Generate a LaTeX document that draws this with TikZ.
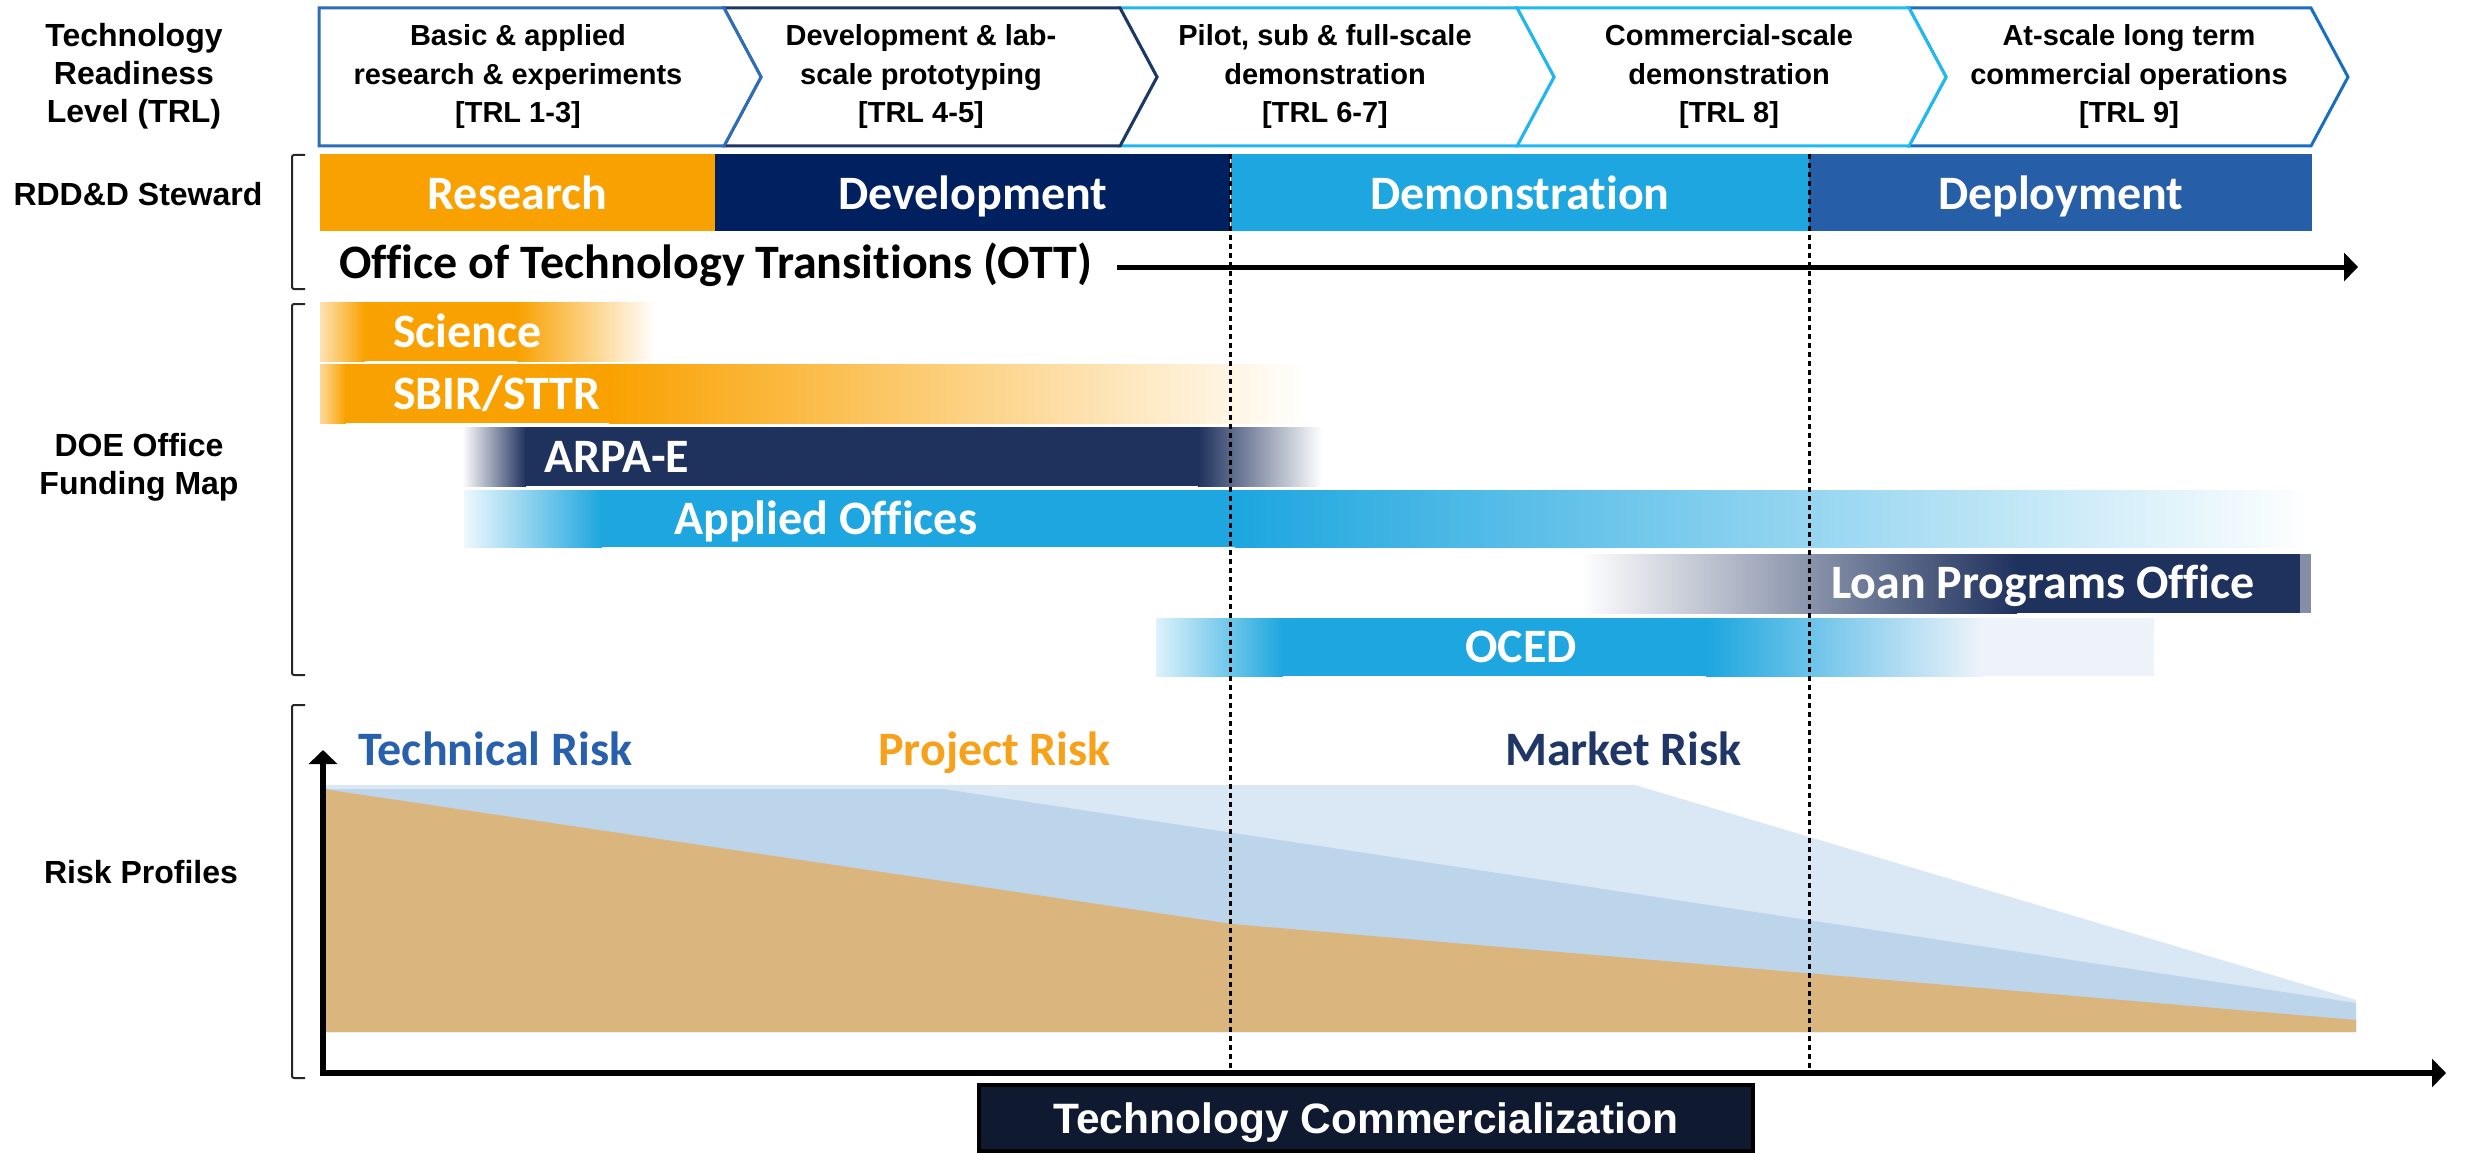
\documentclass[tikz,border=0pt]{standalone}
\usepackage{fontspec}
\setmainfont{Liberation Sans}
\newfontfamily\carlito[Ligatures=NoCommon]{Carlito}
\usepackage{xcolor}
\usepackage{tikz}
\usetikzlibrary{positioning, arrows.meta}

\definecolor{resorange}{RGB}{249,161,0}
\definecolor{devnavy}{RGB}{0,32,96}
\definecolor{demoblue}{RGB}{29,166,223}
\definecolor{depblue}{RGB}{38,94,168}
\definecolor{fundnavy}{RGB}{31,50,94}
\definecolor{techblue}{RGB}{40,96,174}
\definecolor{projorange}{RGB}{247,161,26}
\definecolor{marketnavy}{RGB}{31,54,103}
\definecolor{risklight}{RGB}{218,232,245}
\definecolor{riskmid}{RGB}{189,213,234}
\definecolor{risktan}{RGB}{219,181,126}
\definecolor{commnavy}{RGB}{15,26,48}
\definecolor{ocedpale}{RGB}{238,243,250}
\definecolor{chevA}{RGB}{46,110,184}
\definecolor{chevB}{RGB}{31,55,99}
\definecolor{chevC}{RGB}{34,182,240}
\definecolor{chevD}{RGB}{30,186,242}
\definecolor{chevE}{RGB}{24,110,193}

\tikzstyle{rowlabel} = [align=center, inner sep=0pt, font=\fontsize{32}{38}\selectfont\bfseries]
\tikzstyle{chevtext} = [align=center, inner sep=0pt, font=\fontsize{29}{38.5}\selectfont\bfseries]
\tikzstyle{chevron} = [line width=3pt, fill=white, line join=miter]
\tikzstyle{steward} = [minimum height=77pt, inner sep=0pt, text height=33pt, text depth=0pt, text=white, font=\carlito\fontsize{48}{52}\selectfont\bfseries]
\tikzstyle{fundtext} = [anchor=base west, inner sep=0pt, text=white, font=\carlito\fontsize{48}{52}\selectfont\bfseries]
\tikzstyle{risktext} = [anchor=base west, inner sep=0pt, font=\carlito\fontsize{48}{52}\selectfont\bfseries]
\tikzstyle{sidebracket} = [draw=black!85, line width=2pt, rounded corners=2pt]
\tikzstyle{phaseline} = [line width=3pt, dash pattern=on 5pt off 4pt]
\tikzstyle{thickarrow} = [line width=6pt, -{Triangle[width=28pt, length=14pt]}]

\begin{document}
\begin{tikzpicture}[x=1pt, y=-1pt]
	\useasboundingbox (0,0) rectangle (2468,1153);

	% row labels
	\node (TRL)[rowlabel] at (134,76) {Technology\\Readiness\\Level (TRL)};
	\node (Steward)[rowlabel] at (138,194) {RDD\&D Steward};
	\node (Funding)[rowlabel] at (139,467) {DOE Office\\Funding Map};
	\node (Risk)[rowlabel] at (141,872) {Risk Profiles};

	% TRL chevrons
	\draw[chevron, draw=chevE] (1909,8) -- (2311,8) -- (2348,77) -- (2311,146) -- (1909,146) -- (1946,77) -- cycle;
	\draw[chevron, draw=chevD] (1517,8) -- (1909,8) -- (1946,77) -- (1909,146) -- (1517,146) -- (1554,77) -- cycle;
	\draw[chevron, draw=chevC] (1120,8) -- (1517,8) -- (1554,77) -- (1517,146) -- (1120,146) -- (1157,77) -- cycle;
	\draw[chevron, draw=chevB] (724,8) -- (1120,8) -- (1157,77) -- (1120,146) -- (724,146) -- (761,77) -- cycle;
	\draw[chevron, draw=chevA] (319,8) -- (724,8) -- (761,77) -- (724,146) -- (319,146) -- cycle;
	\node (Basic)[chevtext] at (518,77) {Basic \& applied\\research \& experiments\\{[TRL 1-3]}};
	\node (Lab)[chevtext] at (921,77) {Development \& lab-\\scale prototyping\\{[TRL 4-5]}};
	\node (Pilot)[chevtext] at (1325,77) {Pilot, sub \& full-scale\\demonstration\\{[TRL 6-7]}};
	\node (Commercial)[chevtext] at (1729,77) {Commercial-scale\\demonstration\\{[TRL 8]}};
	\node (AtScale)[chevtext] at (2129,77) {At-scale long term\\commercial operations\\{[TRL 9]}};

	% RDD&D stewards
	\node (Research)[steward, fill=resorange, minimum width=395pt] at (517.5,192.5) {Research};
	\node (Development)[steward, fill=devnavy, minimum width=515pt, right=0pt of Research] {Development};
	\node (Demonstration)[steward, fill=demoblue, minimum width=578pt, right=0pt of Development] {Demonstration};
	\node (Deployment)[steward, fill=depblue, minimum width=503pt, right=0pt of Demonstration] {Deployment};
	\node (OTT)[risktext, text=black] at (339,278) {Office of Technology Transitions (OTT)};
	\coordinate (OTTend) at (2358,267);
	\draw[thickarrow, line width=5pt] ([xshift=25pt]OTT.east |- OTTend) -- (OTTend);

	% funding map bars
	\shade[left color=resorange!30, right color=resorange] (320,302) rectangle (365,361);
	\fill[resorange] (364,302) rectangle (518,361);
	\shade[left color=resorange, right color=white] (517,302) rectangle (655,361);
	\shade[left color=resorange!40, right color=resorange] (320,364) rectangle (346,423);
	\fill[resorange] (345,364) rectangle (610,423);
	\shade[left color=resorange, right color=white] (609,364) rectangle (1305,423);
	\shade[left color=white, right color=fundnavy] (462,427) rectangle (526,486);
	\fill[fundnavy] (525,427) rectangle (1199,486);
	\shade[left color=fundnavy, right color=white] (1198,427) rectangle (1322,486);
	\shade[left color=demoblue!8, right color=demoblue] (464,490) rectangle (602,547);
	\fill[demoblue] (601,490) rectangle (1236,547);
	\shade[left color=demoblue, right color=white] (1235,490) rectangle (2311,547);
	\shade[left color=white, right color=fundnavy] (1580,554) rectangle (2017,613);
	\fill[fundnavy] (2016,554) rectangle (2301,613);
	\fill[fundnavy!55] (2300,554) rectangle (2311,613);
	\shade[left color=demoblue!15, right color=demoblue] (1156,618) rectangle (1283,676);
	\fill[demoblue] (1282,618) rectangle (1707,676);
	\shade[left color=demoblue, right color=ocedpale] (1706,618) rectangle (1983,676);
	\fill[ocedpale] (1982,618) rectangle (2154,676);
	\node (Science)[fundtext] at (393,347) {Science};
	\node (SBIR)[fundtext] at (393,409) {SBIR/STTR};
	\node (ARPAE)[fundtext] at (544,472) {ARPA-E};
	\node (Applied)[fundtext] at (674,534) {Applied Offices};
	\node (LPO)[fundtext] at (1831,598) {Loan Programs Office};
	\node (OCED)[fundtext, anchor=base] at (1521,662) {OCED};

	% risk profiles
	\fill[risklight] (323,785) -- (1635,785) -- (2356,1000) -- (2356,1032) -- (323,1032) -- cycle;
	\fill[riskmid] (323,789) -- (943,789) -- (2356,1003) -- (2356,1032) -- (323,1032) -- cycle;
	\fill[risktan] (323,789) -- (1232,924) -- (2356,1020) -- (2356,1032) -- (323,1032) -- cycle;
	\node (Technical)[risktext, text=techblue] at (358,765) {Technical Risk};
	\node (Project)[risktext, text=projorange] at (878,765) {Project Risk};
	\node (Market)[risktext, text=marketnavy] at (1505,765) {Market Risk};

	% phase boundaries
	\coordinate (origin) at (323,1073);
	\draw[phaseline] (Demonstration.north west) -- (Demonstration.north west |- origin);
	\draw[phaseline] (Deployment.north west) -- (Deployment.north west |- origin);

	% axes
	\coordinate (yend) at (323,750);
	\coordinate (xend) at (2446,1073);
	\draw[thickarrow] ([yshift=-3pt]origin) -- (yend);
	\draw[thickarrow] ([xshift=-3pt]origin) -- (xend);
	\node (Commercialization)[fill=commnavy, draw=black, line width=4pt, minimum width=774pt, minimum height=66pt, text height=31pt, text depth=0pt, inner sep=0pt, text=white, font=\fontsize{42.5}{48}\selectfont\bfseries] at (1366,1118) {Technology Commercialization};

	% brackets
	\draw[sidebracket] (305,155) -- (292,155) -- (292,289) -- (305,289);
	\draw[sidebracket] (305,304) -- (292,304) -- (292,675) -- (305,675);
	\draw[sidebracket] (305,705) -- (292,705) -- (292,1078) -- (305,1078);
	\end{tikzpicture}
\end{document}
